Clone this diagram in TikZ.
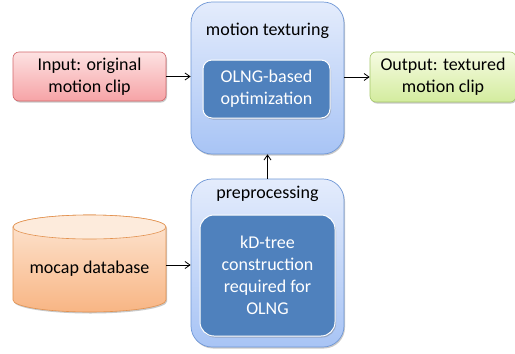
\documentclass[tikz,border=0pt]{standalone}
\usepackage{fontspec}
\setmainfont{Carlito}
\usetikzlibrary{arrows.meta,shadows}
\definecolor{redtop}{HTML}{FDE2E2}
\definecolor{redbot}{HTML}{F6A3A6}
\definecolor{redline}{HTML}{D2676B}
\definecolor{greentop}{HTML}{F6FBE2}
\definecolor{greenbot}{HTML}{D3EC9E}
\definecolor{greenline}{HTML}{A5C76A}
\definecolor{bluetop}{HTML}{E4ECFC}
\definecolor{bluebot}{HTML}{A8C4F5}
\definecolor{blueline}{HTML}{6F97D6}
\definecolor{innerblue}{HTML}{4F81BD}
\definecolor{orangetop}{HTML}{FDE6D3}
\definecolor{orangebot}{HTML}{F8B584}
\definecolor{orangeline}{HTML}{E2914E}
\tikzset{
  every node/.style={font=\fontsize{18}{21.8}\selectfont, align=center, inner sep=0pt},
  shade/.style={drop shadow={shadow xshift=1pt, shadow yshift=-1.5pt, opacity=0.35, fill=black!60}},
  iobox/.style={rectangle, rounded corners=6pt, line width=0.6pt, shade, shading angle=0},
  outerbox/.style={rectangle, rounded corners=21pt, draw=blueline, line width=0.7pt, top color=bluetop, bottom color=bluebot, shade},
  innerbox/.style={rectangle, rounded corners=9pt, draw=white, line width=1pt, fill=innerblue, text=white, shade},
  conn/.style={-{Straight Barb[length=5pt,width=7pt]}, line width=0.8pt, black},
}
\begin{document}
\begin{tikzpicture}[x=1pt, y=-1pt]
\useasboundingbox (0,0) rectangle (515,354);
\fill[white] (0,0) rectangle (515,354);
% input
\node[iobox, draw=redline, top color=redtop, bottom color=redbot, minimum width=153pt, minimum height=49pt] (in) at (89.5,76.5) {Input: original\\motion clip};
% motion texturing
\node[outerbox, minimum width=153pt, minimum height=152pt] (mt) at (267.5,78) {};
\node (mtt) at (267.5,31) {motion texturing};
\node[innerbox, minimum width=127pt, minimum height=58pt] (olng) at (266.5,89) {OLNG-based\\optimization};
% output
\node[iobox, draw=greenline, top color=greentop, bottom color=greenbot, minimum width=146pt, minimum height=50pt] (out) at (443,77) {Output: textured\\motion clip};
% preprocessing
\node[outerbox, minimum width=153pt, minimum height=168pt] (pp) at (267.5,263) {};
\node (ppt) at (267.5,194) {preprocessing};
\node[innerbox, rounded corners=14pt, minimum width=135pt, minimum height=121pt] (kd) at (267.5,275.5) {kD-tree\\construction\\required for\\OLNG};
% cylinder
\path[shade, draw=orangeline, line width=0.6pt, top color=orangetop, bottom color=orangebot]
  (13,227) -- (13,300) arc[start angle=180, end angle=360, x radius=76.5pt, y radius=12pt] -- (166,227) arc[start angle=0, end angle=180, x radius=76.5pt, y radius=12pt] -- cycle;
\draw[orangeline, line width=0.6pt, fill=orangetop!80!white] (89.5,227) ellipse[x radius=76.5pt, y radius=12pt];
\node[minimum width=153pt, minimum height=97pt] (db) at (89.5,263.5) {};
\node (dbt) at (89.5,269) {mocap database};
% connectors
\draw[conn] (in.east) -- (mt.west |- in.east);
\draw[conn] (mt.east |- out.west) -- (out.west);
\draw[conn] (pp.north) -- (mt.south);
\draw[conn] (db.east |- 0,265) -- (pp.west |- 0,265);
\end{tikzpicture}
\end{document}
